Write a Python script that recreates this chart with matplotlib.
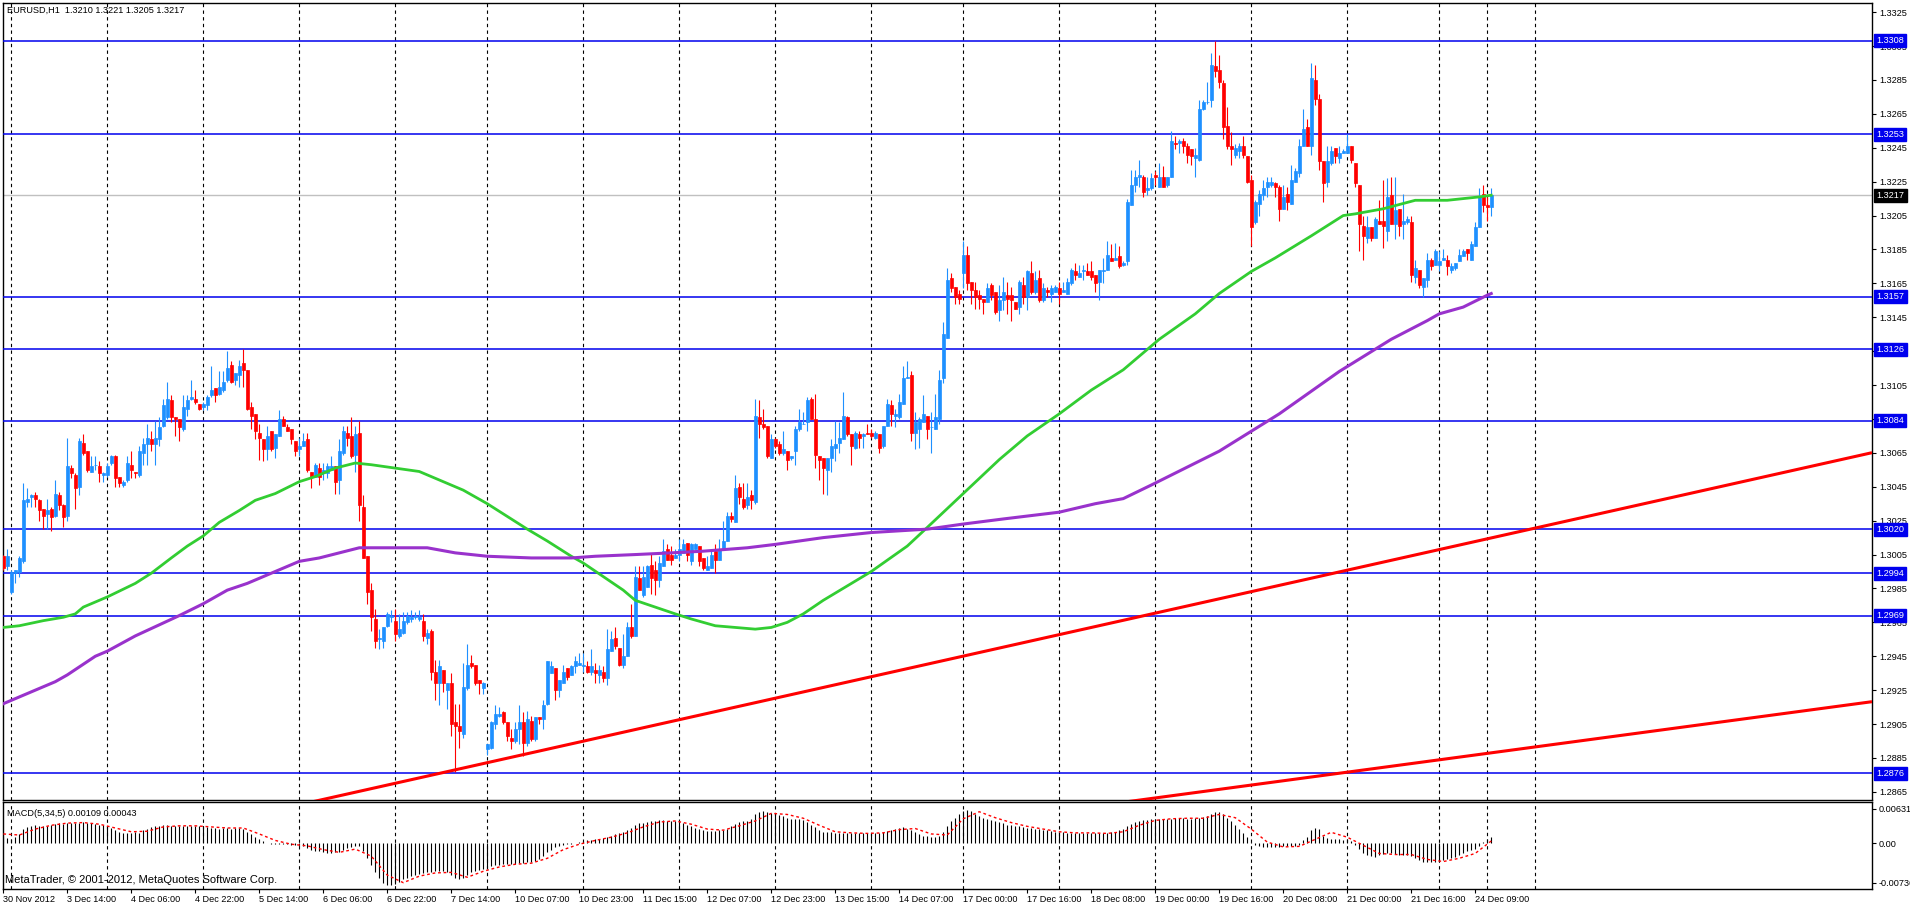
import numpy as np
import matplotlib
matplotlib.use("Agg")
import matplotlib.pyplot as plt
import matplotlib.transforms as mtransforms

plt.rcParams['font.family'] = ['Liberation Sans', 'DejaVu Sans']

# EURUSD H1 candles, prices in pips (1.3004 -> 13004), bar 0 = 30 Nov 2012 22:00
open_pips = [
    13004, 12998, 12983, 12994, 12995, 13001, 13036, 13039, 13040, 13037,
    13032, 13029, 13032, 13028, 13040, 13034, 13028, 13056, 13052, 13045,
    13071, 13066, 13054, 13058, 13057, 13052, 13052, 13059, 13063, 13051,
    13046, 13049, 13058, 13054, 13052, 13065, 13070, 13073, 13070, 13073,
    13081, 13086, 13096, 13086, 13085, 13079, 13091, 13097, 13097, 13094,
    13092, 13093, 13099, 13103, 13100, 13102, 13108, 13117, 13108, 13111,
    13118, 13114, 13092, 13088, 13077, 13073, 13067, 13078, 13068, 13075,
    13085, 13080, 13079, 13072, 13067, 13069, 13073, 13054, 13051, 13056,
    13053, 13053, 13055, 13057, 13049, 13065, 13077, 13075, 13064, 13077,
    13033, 13004, 12984, 12967, 12955, 12954, 12963, 12968, 12966, 12957,
    12959, 12965, 12967, 12968, 12967, 12966, 12956, 12960, 12936, 12929,
    12937, 12925, 12929, 12906, 12904, 12899, 12926, 12941, 12940, 12931,
    12926, 12890, 12891, 12905, 12910, 12912, 12906, 12897, 12895, 12902,
    12906, 12894, 12907, 12896, 12909, 12908, 12917, 12935, 12938, 12925,
    12929, 12938, 12934, 12939, 12940, 12939, 12939, 12936, 12937, 12934,
    12936, 12932, 12948, 12956, 12950, 12940, 12945, 12962, 12957, 12991,
    12981, 12986, 12999, 12996, 12990, 12998, 13008, 13005, 13003, 13005,
    13006, 13012, 13001, 13008, 13010, 13003, 12996, 12997, 13007, 13002,
    13008, 13013, 13028, 13024, 13045, 13038, 13034, 13040, 13036, 13086,
    13082, 13081, 13062, 13073, 13070, 13065, 13066, 13062, 13066, 13079,
    13082, 13083, 13097, 13085, 13063, 13062, 13055, 13062, 13068, 13071,
    13073, 13086, 13076, 13068, 13076, 13075, 13077, 13077, 13074, 13076,
    13069, 13081, 13093, 13087, 13086, 13094, 13109, 13111, 13077, 13079,
    13083, 13087, 13080, 13079, 13085, 13109, 13133, 13168, 13163, 13159,
    13171, 13182, 13166, 13161, 13158, 13156, 13154, 13164, 13160, 13149,
    13155, 13158, 13158, 13154, 13151, 13164, 13157, 13171, 13160, 13168,
    13155, 13161, 13159, 13160, 13162, 13160, 13159, 13165, 13172, 13169,
    13172, 13172, 13172, 13170, 13166, 13172, 13173, 13180, 13179, 13181,
    13176, 13178, 13211, 13223, 13228, 13228, 13220, 13221, 13229, 13222,
    13228, 13223, 13228, 13248, 13248, 13249, 13246, 13244, 13239, 13238,
    13268, 13272, 13273, 13293, 13291, 13283, 13258, 13246, 13241, 13243,
    13246, 13240, 13226, 13201, 13212, 13217, 13222, 13223, 13224, 13222,
    13209, 13218, 13212, 13225, 13230, 13246, 13257, 13246, 13285, 13274,
    13237, 13225, 13236, 13245, 13239, 13242, 13242, 13246, 13236, 13223,
    13199, 13192, 13198, 13192, 13202, 13202, 13196, 13217, 13200, 13209,
    13200, 13201, 13201, 13169, 13173, 13163, 13167, 13179, 13176, 13176,
    13179, 13179, 13173, 13174, 13178, 13181, 13185, 13179, 13187, 13198,
    13218, 13211, 13210]

high_pips = [
    13005, 13008, 12996, 12996, 13004, 13047, 13044, 13041, 13042, 13038,
    13032, 13038, 13033, 13049, 13042, 13035, 13074, 13058, 13053, 13074,
    13076, 13066, 13063, 13063, 13060, 13054, 13059, 13064, 13064, 13051,
    13049, 13063, 13066, 13054, 13069, 13074, 13082, 13078, 13084, 13086,
    13097, 13107, 13099, 13086, 13085, 13099, 13099, 13108, 13102, 13094,
    13095, 13099, 13116, 13103, 13113, 13113, 13125, 13119, 13112, 13120,
    13126, 13114, 13095, 13088, 13082, 13073, 13081, 13078, 13076, 13090,
    13087, 13082, 13079, 13072, 13074, 13077, 13077, 13054, 13059, 13059,
    13059, 13059, 13063, 13057, 13073, 13081, 13081, 13086, 13081, 13084,
    13040, 13004, 12988, 12973, 12961, 12962, 12971, 12972, 12973, 12970,
    12971, 12971, 12972, 12971, 12972, 12970, 12961, 12961, 12943, 12943,
    12937, 12929, 12935, 12917, 12917, 12941, 12952, 12946, 12940, 12931,
    12930, 12893, 12907, 12916, 12915, 12913, 12906, 12902, 12906, 12916,
    12912, 12913, 12910, 12909, 12909, 12919, 12942, 12942, 12938, 12931,
    12940, 12938, 12940, 12945, 12947, 12947, 12942, 12949, 12941, 12940,
    12939, 12961, 12960, 12962, 12950, 12958, 12965, 12976, 12998, 12998,
    12998, 12999, 13006, 13001, 13004, 13014, 13011, 13010, 13008, 13014,
    13014, 13012, 13012, 13012, 13010, 13003, 13004, 13007, 13011, 13014,
    13025, 13030, 13030, 13052, 13047, 13047, 13047, 13043, 13097, 13096,
    13091, 13081, 13076, 13074, 13072, 13078, 13066, 13063, 13081, 13091,
    13089, 13098, 13098, 13100, 13063, 13062, 13062, 13073, 13084, 13083,
    13101, 13087, 13076, 13078, 13078, 13077, 13082, 13079, 13078, 13076,
    13081, 13097, 13096, 13091, 13100, 13116, 13119, 13113, 13089, 13086,
    13099, 13087, 13089, 13100, 13114, 13142, 13174, 13171, 13163, 13161,
    13190, 13187, 13166, 13166, 13161, 13156, 13165, 13165, 13160, 13164,
    13169, 13166, 13163, 13154, 13167, 13169, 13173, 13178, 13172, 13173,
    13165, 13163, 13164, 13164, 13166, 13166, 13168, 13174, 13177, 13176,
    13176, 13177, 13178, 13170, 13173, 13180, 13190, 13188, 13189, 13187,
    13178, 13215, 13232, 13232, 13238, 13229, 13228, 13230, 13231, 13236,
    13234, 13228, 13255, 13252, 13250, 13251, 13248, 13244, 13245, 13273,
    13273, 13284, 13301, 13308, 13300, 13285, 13269, 13254, 13247, 13248,
    13252, 13240, 13229, 13214, 13220, 13226, 13228, 13228, 13225, 13223,
    13223, 13222, 13235, 13233, 13250, 13268, 13262, 13295, 13294, 13277,
    13237, 13246, 13246, 13245, 13246, 13244, 13253, 13246, 13236, 13223,
    13205, 13205, 13198, 13204, 13214, 13226, 13227, 13228, 13228, 13209,
    13218, 13205, 13205, 13179, 13173, 13168, 13183, 13180, 13185, 13184,
    13185, 13182, 13177, 13177, 13185, 13185, 13185, 13190, 13201, 13221,
    13223, 13216, 13221]

low_pips = [
    12996, 12996, 12982, 12988, 12992, 13000, 13033, 13033, 13033, 13025,
    13020, 13020, 13019, 13027, 13031, 13021, 13025, 13050, 13032, 13040,
    13064, 13054, 13054, 13055, 13048, 13048, 13051, 13058, 13045, 13045,
    13045, 13048, 13050, 13050, 13051, 13058, 13058, 13066, 13058, 13069,
    13080, 13085, 13083, 13075, 13072, 13078, 13087, 13096, 13094, 13090,
    13090, 13090, 13098, 13095, 13099, 13101, 13107, 13106, 13105, 13104,
    13104, 13090, 13079, 13073, 13061, 13060, 13061, 13066, 13062, 13075,
    13081, 13078, 13070, 13063, 13063, 13069, 13054, 13044, 13051, 13046,
    13049, 13050, 13055, 13041, 13041, 13064, 13069, 13062, 13054, 13025,
    13003, 12976, 12960, 12950, 12949, 12950, 12962, 12965, 12954, 12956,
    12958, 12964, 12965, 12967, 12966, 12954, 12952, 12931, 12919, 12916,
    12924, 12914, 12898, 12877, 12891, 12897, 12925, 12938, 12928, 12923,
    12923, 12887, 12890, 12902, 12909, 12905, 12895, 12890, 12894, 12893,
    12886, 12892, 12895, 12895, 12905, 12902, 12916, 12935, 12919, 12921,
    12929, 12931, 12934, 12935, 12940, 12936, 12935, 12934, 12929, 12929,
    12930, 12928, 12948, 12949, 12939, 12938, 12945, 12956, 12957, 12984,
    12980, 12986, 12982, 12981, 12986, 12998, 13002, 12999, 13003, 13001,
    13006, 13001, 12999, 13008, 12998, 12996, 12996, 12997, 12994, 13002,
    13008, 13013, 13024, 13024, 13035, 13032, 13032, 13032, 13035, 13074,
    13079, 13062, 13062, 13068, 13064, 13064, 13055, 13061, 13058, 13078,
    13082, 13078, 13085, 13056, 13049, 13041, 13040, 13054, 13060, 13065,
    13073, 13075, 13058, 13067, 13068, 13068, 13076, 13074, 13073, 13065,
    13068, 13081, 13081, 13080, 13085, 13094, 13109, 13072, 13067, 13068,
    13083, 13073, 13065, 13079, 13082, 13106, 13133, 13160, 13153, 13153,
    13162, 13161, 13153, 13150, 13150, 13147, 13154, 13155, 13147, 13143,
    13149, 13147, 13143, 13150, 13147, 13153, 13149, 13159, 13159, 13154,
    13154, 13157, 13154, 13160, 13153, 13160, 13159, 13164, 13167, 13169,
    13167, 13170, 13167, 13160, 13155, 13165, 13173, 13178, 13179, 13174,
    13175, 13176, 13211, 13219, 13222, 13216, 13217, 13220, 13223, 13222,
    13222, 13222, 13228, 13244, 13242, 13242, 13236, 13235, 13228, 13237,
    13267, 13271, 13269, 13287, 13280, 13250, 13244, 13235, 13239, 13239,
    13239, 13224, 13187, 13200, 13205, 13214, 13216, 13222, 13216, 13202,
    13209, 13208, 13212, 13225, 13228, 13246, 13246, 13241, 13270, 13232,
    13213, 13222, 13235, 13236, 13236, 13242, 13242, 13236, 13222, 13184,
    13179, 13189, 13190, 13192, 13200, 13186, 13190, 13200, 13191, 13193,
    13191, 13200, 13166, 13165, 13162, 13157, 13163, 13173, 13176, 13172,
    13179, 13170, 13171, 13173, 13178, 13181, 13179, 13179, 13187, 13198,
    13207, 13202, 13205]

close_pips = [
    12997, 13004, 12995, 12996, 13003, 13037, 13038, 13040, 13038, 13031,
    13028, 13031, 13027, 13041, 13034, 13027, 13057, 13053, 13044, 13072,
    13065, 13055, 13057, 13058, 13053, 13053, 13057, 13063, 13050, 13047,
    13048, 13059, 13055, 13053, 13066, 13070, 13074, 13070, 13074, 13080,
    13093, 13097, 13086, 13085, 13080, 13092, 13096, 13098, 13095, 13091,
    13094, 13098, 13102, 13099, 13104, 13107, 13115, 13107, 13112, 13116,
    13114, 13091, 13087, 13078, 13074, 13067, 13075, 13067, 13076, 13085,
    13081, 13078, 13073, 13066, 13069, 13072, 13055, 13051, 13058, 13051,
    13055, 13057, 13057, 13048, 13066, 13078, 13074, 13063, 13076, 13034,
    13003, 12983, 12968, 12954, 12956, 12962, 12970, 12969, 12958, 12961,
    12966, 12969, 12968, 12969, 12968, 12957, 12959, 12936, 12929, 12939,
    12929, 12929, 12905, 12904, 12901, 12927, 12940, 12939, 12929, 12929,
    12929, 12893, 12906, 12911, 12911, 12906, 12898, 12895, 12902, 12906,
    12894, 12908, 12896, 12909, 12908, 12916, 12942, 12939, 12925, 12931,
    12936, 12933, 12939, 12942, 12941, 12940, 12936, 12939, 12935, 12937,
    12932, 12949, 12955, 12951, 12940, 12945, 12962, 12957, 12992, 12984,
    12992, 12998, 12991, 12990, 13000, 13007, 13002, 13002, 13005, 13008,
    13011, 13005, 13011, 13011, 13001, 12997, 12998, 13005, 13002, 13008,
    13013, 13028, 13026, 13044, 13039, 13033, 13039, 13037, 13087, 13082,
    13080, 13063, 13073, 13069, 13065, 13067, 13061, 13063, 13079, 13083,
    13082, 13096, 13085, 13064, 13061, 13056, 13062, 13069, 13070, 13074,
    13087, 13076, 13069, 13077, 13074, 13076, 13076, 13075, 13077, 13068,
    13081, 13094, 13088, 13088, 13095, 13109, 13110, 13077, 13083, 13085,
    13088, 13079, 13080, 13086, 13108, 13135, 13167, 13162, 13157, 13156,
    13182, 13165, 13161, 13157, 13156, 13154, 13162, 13158, 13148, 13155,
    13160, 13156, 13155, 13150, 13166, 13157, 13172, 13160, 13167, 13155,
    13162, 13160, 13162, 13163, 13159, 13161, 13166, 13173, 13170, 13171,
    13173, 13170, 13169, 13165, 13173, 13173, 13182, 13178, 13180, 13175,
    13177, 13213, 13223, 13228, 13229, 13219, 13221, 13227, 13228, 13228,
    13222, 13228, 13249, 13247, 13249, 13246, 13241, 13240, 13241, 13268,
    13272, 13272, 13294, 13290, 13284, 13257, 13246, 13244, 13245, 13246,
    13241, 13225, 13198, 13213, 13218, 13221, 13225, 13225, 13222, 13209,
    13216, 13213, 13226, 13231, 13246, 13256, 13246, 13286, 13274, 13237,
    13224, 13237, 13243, 13240, 13242, 13243, 13246, 13238, 13224, 13200,
    13193, 13198, 13192, 13203, 13200, 13199, 13216, 13200, 13208, 13199,
    13202, 13203, 13170, 13174, 13164, 13168, 13179, 13175, 13184, 13178,
    13180, 13175, 13175, 13177, 13182, 13184, 13183, 13188, 13198, 13216,
    13211, 13210, 13217]

# moving averages read at selected bars (pips)
green_bars = [0, 4, 10, 15, 18, 20, 26, 33, 37, 42, 46, 50, 54, 59, 63, 68, 74, 78, 83, 88,
              92, 98, 104, 108, 115, 121, 125, 131, 136, 142, 145, 150, 155, 158, 163, 168,
              172, 178, 183, 188, 192, 196, 200, 205, 217, 226, 231, 240, 249, 256, 264,
              272, 280, 289, 298, 304, 312, 318, 327, 335, 338, 345, 353, 361, 369, 372]
green_pips = [12962, 12963, 12966, 12968, 12970, 12974, 12980, 12988, 12994, 13003, 13010,
              13016, 13024, 13031, 13037, 13041, 13048, 13051, 13056, 13059, 13058, 13056,
              13054, 13050, 13043, 13035, 13029, 13020, 13013, 13004, 13000, 12992, 12984,
              12978, 12974, 12970, 12967, 12963, 12962, 12961, 12962, 12965, 12970, 12978,
              12995, 13010, 13021, 13041, 13061, 13075, 13088, 13102, 13114, 13132, 13147,
              13159, 13172, 13180, 13193, 13205, 13206, 13209, 13214, 13214, 13216, 13217]
purple_bars = [0, 4, 13, 16, 23, 26, 33, 44, 50, 56, 61, 67, 74, 79, 84, 89, 94, 106, 113,
               121, 132, 142, 148, 158, 167, 175, 186, 193, 205, 217, 231, 240, 250, 264,
               273, 280, 287, 304, 319, 334, 347, 356, 359, 365, 371, 372]
purple_pips = [12917, 12921, 12930, 12934, 12945, 12948, 12957, 12969, 12976, 12984, 12988,
               12994, 13001, 13003, 13006, 13009, 13009, 13009, 13006, 13004, 13003, 13003,
               13004, 13005, 13006, 13007, 13009, 13011, 13015, 13018, 13020, 13023, 13026,
               13030, 13035, 13038, 13046, 13066, 13088, 13113, 13132, 13143, 13147, 13151,
               13158, 13159]

levels = [1.3308, 1.3253, 1.3157, 1.3126, 1.3084, 1.3020, 1.2994, 1.2969, 1.2876]
last_price = 1.3217

trend1_x = [60, 467.2]
trend1_y = [1.28500, 1.30651]
trend2_x = [270, 467.2]
trend2_y = [1.28557, 1.29182]

# MACD(5,34,5) histogram per bar, units of 0.0001
macd_hist = [
    12, 9, 8, 11, 17, 26, 30, 32, 33, 32,
    31, 32, 33, 35, 37, 35, 37, 38, 37, 38,
    39, 38, 37, 35, 34, 33, 32, 28, 25, 21,
    19, 18, 19, 20, 19, 24, 27, 30, 31, 32,
    33, 33, 32, 31, 32, 32, 31, 31, 32, 31,
    31, 30, 28, 28, 27, 28, 28, 27, 28, 28,
    27, 21, 17, 12, 7, 4, 1, -1, -2, -2,
    -1, -2, -4, -4, -5, -6, -9, -12, -14, -15,
    -17, -18, -18, -17, -17, -13, -9, -7, -5, -6,
    -15, -28, -41, -53, -65, -73, -77, -78, -76, -71,
    -67, -64, -61, -59, -57, -55, -54, -53, -52, -52,
    -52, -53, -59, -64, -66, -65, -59, -54, -52, -50,
    -47, -45, -42, -41, -40, -39, -39, -38, -38, -37,
    -37, -35, -35, -33, -30, -24, -17, -12, -8, -6,
    -4, -2, -1, 1, 2, 4, 5, 6, 7, 8,
    9, 12, 14, 17, 19, 21, 24, 28, 33, 37,
    38, 39, 40, 41, 42, 42, 41, 41, 40, 39,
    37, 34, 32, 28, 26, 24, 22, 22, 22, 24,
    25, 27, 31, 35, 39, 40, 41, 45, 53, 58,
    59, 57, 55, 54, 52, 50, 47, 45, 45, 44,
    42, 39, 34, 30, 25, 21, 20, 20, 19, 19,
    19, 19, 18, 18, 18, 18, 18, 18, 18, 19,
    20, 22, 25, 27, 28, 30, 27, 24, 20, 17,
    14, 13, 12, 12, 14, 21, 31, 40, 47, 53,
    59, 61, 59, 54, 50, 47, 45, 42, 40, 39,
    37, 34, 33, 32, 31, 30, 28, 28, 27, 26,
    25, 24, 22, 21, 20, 20, 19, 19, 19, 19,
    19, 18, 18, 18, 18, 19, 19, 20, 21, 24,
    26, 31, 35, 39, 41, 42, 42, 44, 44, 44,
    45, 45, 45, 46, 46, 46, 45, 45, 46, 47,
    48, 51, 54, 57, 57, 53, 47, 40, 34, 26,
    18, 12, 2, -4, -6, -7, -8, -7, -7, -7,
    -6, -6, -6, -5, -4, 6, 12, 24, 28, 26,
    14, 9, 8, 7, 7, 6, 7, 4, -4, -11,
    -18, -21, -24, -25, -22, -20, -19, -19, -20, -21,
    -21, -21, -24, -28, -32, -34, -35, -35, -34, -33,
    -32, -30, -27, -25, -21, -18, -15, -13, -11, -5,
    2, 7, 11]
signal_bars = list(range(0, 373, 4))
macd_signal = [17, 15, 26, 33, 37, 38, 35, 28, 21, 22,
               30, 32, 32, 30, 28, 28, 17, 5, -2, -5,
               -12, -17, -11, -24, -59, -73, -61, -55, -54, -63,
               -52, -44, -39, -37, -28, -12, -2, 5, 11, 19,
               30, 39, 41, 35, 26, 24, 32, 41, 55, 53,
               46, 33, 21, 19, 18, 19, 25, 27, 17, 15,
               45, 58, 47, 38, 31, 26, 21, 19, 19, 18,
               21, 33, 42, 45, 46, 46, 53, 47, 26, 2,
               -7, -6, 7, 20, 11, -4, -19, -21, -21, -30,
               -34, -28, -19, 4]

time_bars = [0, 16, 32, 48, 64, 80, 96, 112, 128, 144, 160, 176, 192, 208, 224, 240,
             256, 272, 288, 304, 320, 336, 352, 368]
time_labels = ['30 Nov 2012', '3 Dec 14:00', '4 Dec 06:00', '4 Dec 22:00', '5 Dec 14:00',
               '6 Dec 06:00', '6 Dec 22:00', '7 Dec 14:00', '10 Dec 07:00', '10 Dec 23:00',
               '11 Dec 15:00', '12 Dec 07:00', '12 Dec 23:00', '13 Dec 15:00', '14 Dec 07:00',
               '17 Dec 00:00', '17 Dec 16:00', '18 Dec 08:00', '19 Dec 00:00', '19 Dec 16:00',
               '20 Dec 08:00', '21 Dec 00:00', '21 Dec 16:00', '24 Dec 09:00']
grid_bars = [2, 26, 50, 74, 98, 121, 145, 169, 193, 217, 240, 264, 288, 312, 336, 359, 371, 383]

# ---------------------------------------------------------------
W, H = 1910, 906
FS = 6.6
LVL = '#0000EE'
BULL = '#1E90FF'
BEAR = '#FF0000'

o = np.array(open_pips) / 1e4
hi = np.array(high_pips) / 1e4
lo = np.array(low_pips) / 1e4
c = np.array(close_pips) / 1e4
x = np.arange(len(c))

fig = plt.figure(figsize=(W / 100, H / 100), dpi=100)
ax = fig.add_axes([2.5 / W, 1 - 800 / H, 1869.5 / W, 797 / H])
axm = fig.add_axes([2.5 / W, 1 - 889 / H, 1869.5 / W, 87 / H])

for a in (ax, axm):
    a.set_xlim(-0.2, 467.2)
    for g in grid_bars:
        a.axvline(g, color='black', lw=0.8, ls=(0, (3, 3)), zorder=1)
    for s in a.spines.values():
        s.set_color('black')
        s.set_linewidth(1.0)

# price panel
for lv in levels:
    ax.axhline(lv, color=LVL, lw=1.1, zorder=3)
ax.axhline(last_price, color='#C0C0C0', lw=1.0, zorder=2)

ax.plot(trend1_x, trend1_y, color='red', lw=2.2, zorder=3, solid_capstyle='butt')
ax.plot(trend2_x, trend2_y, color='red', lw=2.2, zorder=3, solid_capstyle='butt')

cols = np.where(c >= o, BULL, BEAR)
ax.vlines(x, lo, hi, colors=cols, lw=0.8, zorder=4)
ax.bar(x, np.abs(c - o), bottom=np.minimum(o, c), width=0.72, color=cols,
       edgecolor=cols, linewidth=0.5, zorder=5)

ax.plot(green_bars, np.array(green_pips) / 1e4, color='#32CD32', lw=2.0, zorder=6)
ax.plot(purple_bars, np.array(purple_pips) / 1e4, color='#9932CC', lw=2.2, zorder=6)

ax.set_ylim(1.28602, 1.33304)
yt = np.arange(12865, 13326, 20) / 1e4
ax.yaxis.tick_right()
ax.set_yticks(yt)
ax.set_yticklabels([f'{v:.4f}' for v in yt])
ax.tick_params(axis='y', direction='out', length=3, width=0.8, labelsize=FS, pad=2)
ax.set_xticks([])

tr = mtransforms.blended_transform_factory(fig.transFigure, ax.transData)
for lv in levels:
    ax.text(1876.5 / W, lv, f'{lv:.4f}', transform=tr, ha='left', va='center',
            fontsize=FS, color='white', clip_on=False, zorder=20,
            bbox=dict(boxstyle='square,pad=0.22', fc=LVL, ec=LVL))
ax.text(1876.5 / W, last_price, f'{last_price:.4f}', transform=tr, ha='left', va='center',
        fontsize=FS, color='white', clip_on=False, zorder=20,
        bbox=dict(boxstyle='square,pad=0.22', fc='black', ec='black'))

# MACD panel
axm.vlines(x, 0, np.array(macd_hist) / 1e4, colors='black', lw=0.8, zorder=3)
axm.plot(signal_bars, np.array(macd_signal) / 1e4, color='red', lw=1.0,
         ls=(0, (2, 2)), zorder=4)
axm.set_ylim(-0.00847, 0.00760)
axm.yaxis.tick_right()
axm.set_yticks([0.00631, 0.0, -0.00736])
axm.set_yticklabels(['0.00631', '0.00', '-0.00736'])
axm.tick_params(axis='y', direction='out', length=3, width=0.8, labelsize=FS, pad=2)
axm.set_xticks(time_bars)
axm.set_xticklabels(time_labels)
axm.tick_params(axis='x', direction='out', length=3, width=0.8, labelsize=FS, pad=1.5)
for t in axm.get_xticklabels():
    t.set_ha('left')

fig.text(7 / W, 1 - 10 / H, 'EURUSD,H1  1.3210 1.3221 1.3205 1.3217',
         fontsize=FS, va='center', ha='left')
fig.text(7 / W, 1 - 813 / H, 'MACD(5,34,5) 0.00109 0.00043',
         fontsize=FS, va='center', ha='left')
fig.text(5 / W, 1 - 880 / H, 'MetaTrader, \u00a9 2001-2012, MetaQuotes Software Corp.',
         fontsize=8, va='center', ha='left')

fig.savefig('out.png', dpi=100, facecolor='white')
